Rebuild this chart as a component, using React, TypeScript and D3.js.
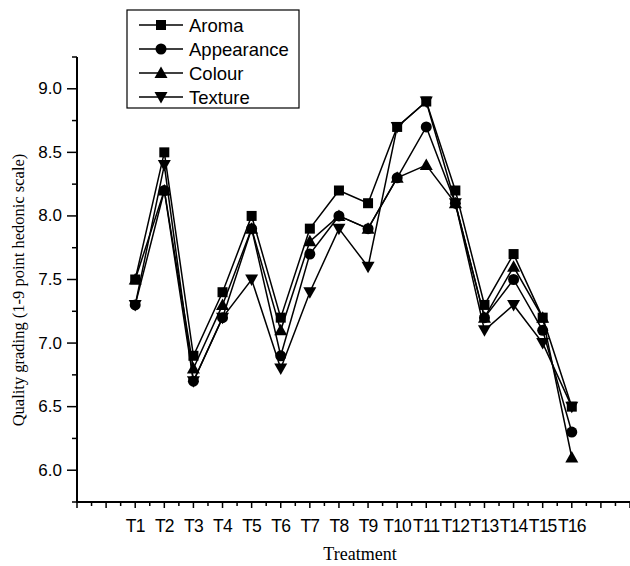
import React from "react";
import * as d3 from "d3";

const treatments = ["T1", "T2", "T3", "T4", "T5", "T6", "T7", "T8", "T9", "T10", "T11", "T12", "T13", "T14", "T15", "T16"];
const aroma = [7.5, 8.5, 6.9, 7.4, 8.0, 7.2, 7.9, 8.2, 8.1, 8.7, 8.9, 8.2, 7.3, 7.7, 7.2, 6.5];
const appearance = [7.3, 8.2, 6.7, 7.2, 7.9, 6.9, 7.7, 8.0, 7.9, 8.3, 8.7, 8.1, 7.2, 7.5, 7.1, 6.3];
const colour = [7.5, 8.2, 6.8, 7.3, 7.9, 7.1, 7.8, 8.0, 7.9, 8.3, 8.4, 8.1, 7.2, 7.6, 7.2, 6.1];
const texture = [7.3, 8.4, 6.7, 7.2, 7.5, 6.8, 7.4, 7.9, 7.6, 8.7, 8.9, 8.1, 7.1, 7.3, 7.0, 6.5];
const yTicks = [6.0, 6.5, 7.0, 7.5, 8.0, 8.5, 9.0];

const series = [
  { name: "Aroma", values: aroma, symbol: "square" },
  { name: "Appearance", values: appearance, symbol: "circle" },
  { name: "Colour", values: colour, symbol: "up" },
  { name: "Texture", values: texture, symbol: "down" }
];

const sans = "'Liberation Sans', Arial, sans-serif";
const serif = "'Liberation Serif', 'Times New Roman', serif";

function Marker({ kind, cx, cy }: { kind: string; cx: number; cy: number }) {
  if (kind === "square") return <rect x={cx - 5} y={cy - 5} width={10} height={10} fill="#000" />;
  if (kind === "circle") return <circle cx={cx} cy={cy} r={5.5} fill="#000" />;
  if (kind === "up")
    return <path d={`M${cx},${cy - 6.5}L${cx + 6.5},${cy + 5}L${cx - 6.5},${cy + 5}Z`} fill="#000" />;
  return <path d={`M${cx},${cy + 6.5}L${cx + 6.5},${cy - 5}L${cx - 6.5},${cy - 5}Z`} fill="#000" />;
}

export default function App() {
  const width = 630;
  const height = 566;
  const x = d3.scaleLinear().domain([-1, 18]).range([77, 630]);
  const y = d3.scaleLinear().domain([5.75, 9.25]).range([502, 57]);

  const line = d3
    .line<number>()
    .x((_, i) => x(i + 1))
    .y((d) => y(d));

  const xTicks = d3.range(-1, 18.01, 0.5);
  const yMinor = d3.range(5.75, 9.26, 0.5);

  return (
    <svg width={width} height={height} style={{ position: "absolute", left: 0, top: 0, background: "#fff" }}>
      {/* axes */}
      <line x1={x(-1)} x2={630} y1={y(5.75)} y2={y(5.75)} stroke="#000" strokeWidth={2} />
      <line x1={x(-1)} x2={x(-1)} y1={y(5.75) + 1} y2={y(9.25)} stroke="#000" strokeWidth={2} />

      {xTicks.map((t) => (
        <line
          key={"xt" + t}
          x1={x(t)}
          x2={x(t)}
          y1={y(5.75)}
          y2={y(5.75) + (Number.isInteger(t) ? 6 : 4)}
          stroke="#000"
          strokeWidth={1.5}
        />
      ))}
      {treatments.map((t, i) => (
        <text key={t} x={x(i + 1)} y={532} textAnchor="middle" fontFamily={sans} fontSize={17.5} letterSpacing={-0.8}>
          {t}
        </text>
      ))}

      {yTicks.map((t) => (
        <g key={"yt" + t}>
          <line x1={x(-1) - 10} x2={x(-1)} y1={y(t)} y2={y(t)} stroke="#000" strokeWidth={1.5} />
          <text x={x(-1) - 15} y={y(t) + 5.5} textAnchor="end" fontFamily={sans} fontSize={17}>
            {t.toFixed(1)}
          </text>
        </g>
      ))}
      {yMinor.map((t) => (
        <line key={"ym" + t} x1={x(-1) - 5} x2={x(-1)} y1={y(t)} y2={y(t)} stroke="#000" strokeWidth={1.5} />
      ))}

      <text
        transform={`translate(24,290) rotate(-90)`}
        textAnchor="middle"
        fontFamily={serif}
        fontSize={16.5}
      >
        Quality grading (1-9 point hedonic scale)
      </text>
      <text x={360} y={560} textAnchor="middle" fontFamily={serif} fontSize={18}>
        Treatment
      </text>

      {/* series */}
      {series.map((s) => (
        <g key={s.name}>
          <path d={line(s.values) || ""} fill="none" stroke="#000" strokeWidth={1.5} />
          {s.values.map((v, i) => (
            <Marker key={i} kind={s.symbol} cx={x(i + 1)} cy={y(v)} />
          ))}
        </g>
      ))}

      {/* legend */}
      <rect x={127} y={10} width={172} height={98} fill="#fff" stroke="#000" strokeWidth={1.2} />
      {series.map((s, i) => {
        const ly = 25 + i * 24;
        return (
          <g key={"lg" + s.name}>
            <line x1={139} x2={183} y1={ly} y2={ly} stroke="#000" strokeWidth={1.5} />
            <Marker kind={s.symbol} cx={161} cy={ly} />
            <text x={189} y={ly + 7} fontFamily={sans} fontSize={18.5}>
              {s.name}
            </text>
          </g>
        );
      })}
    </svg>
  );
}
